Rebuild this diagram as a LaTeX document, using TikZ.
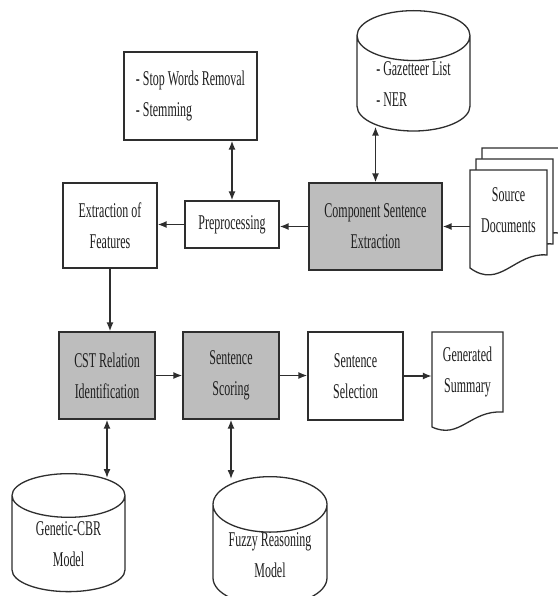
\documentclass[tikz,border=0pt]{standalone}
\usepackage{fontspec}
\setmainfont{Liberation Serif}[FakeStretch=0.57]
\usepackage{xcolor}
\definecolor{flow-line}{HTML}{2E2E2E}
\definecolor{flow-text}{HTML}{1E1E1E}
\definecolor{flow-shade}{HTML}{BDBDBD}
\usetikzlibrary{arrows.meta,shapes.geometric,calc}

\begin{document}
\begin{tikzpicture}[x=1pt, y=-1pt,
    font=\fontsize{21}{31}\selectfont, text=flow-text,
    plainbox/.style={draw=flow-line, line width=1.3pt, fill=white, inner sep=0pt, align=center},
    shadebox/.style={plainbox, fill=flow-shade},
    dbase/.style={cylinder, shape border rotate=90, aspect=0.67, draw=flow-line, line width=1.3pt, inner sep=0pt, align=center, anchor=north},
    page/.style={draw=flow-line, line width=1.3pt, fill=white},
    flowarrow/.style={draw=flow-line, line width=1.5pt, -{Latex[length=9pt,width=7pt]}},
    bothway/.style={flowarrow, {Latex[length=9pt,width=7pt]}-{Latex[length=9pt,width=7pt]}}]

    % Background
    \fill[white] (0,0) rectangle (557,596);
    \useasboundingbox (0,0) rectangle (557,596);

    % Pages
    \foreach \s in {2,1,0}
        \draw[page, shift={(6*\s,-11*\s)}] (470,170) -- (547,170) -- (547,255)
            .. controls (515,252) and (500,290) .. (470,268) -- cycle;
    \draw[page] (432,332) -- (503,332) -- (503,412)
        .. controls (470,410) and (460,440) .. (432,427) -- cycle;

    % Top row
    \node[plainbox, minimum width=133, minimum height=88, align=left] (stopw) at (190.5,96) {- Stop Words Removal\\- Stemming};
    \node[dbase, minimum width=113, minimum height=117, align=left] (gaz) at (413.5,10) {- Gazetteer List\\- NER};
    \node[plainbox, minimum width=94, minimum height=85] (feat) at (110,225.5) {Extraction of\\Features};
    \node[plainbox, minimum width=94, minimum height=47] (prep) at (232,224.5) {Preprocessing};
    \node[shadebox, minimum width=133, minimum height=87] (comp) at (375.5,226.5) {Component Sentence\\Extraction};
    \node[inner sep=0pt, minimum width=77, minimum height=85, align=center] (src) at (508.5,210) {Source\\Documents};

    % Bottom row
    \node[shadebox, minimum width=96, minimum height=87] (cst) at (107,375.5) {CST Relation\\Identification};
    \node[shadebox, minimum width=96, minimum height=87] (score) at (231,375.5) {Sentence\\Scoring};
    \node[plainbox, minimum width=95, minimum height=88] (select) at (355.5,376) {Sentence\\Selection};
    \node[inner sep=0pt, minimum width=71, minimum height=80, align=center] (summ) at (467.5,372) {Generated\\Summary};

    % Models
    \node[dbase, minimum width=113, minimum height=118] (gcbr) at (68.5,473) {Genetic-CBR\\Model};
    \node[dbase, minimum width=114, minimum height=113] (fuzzy) at (270,476) {Fuzzy Reasoning\\Model};

    % Connectors
    \draw[bothway] (prep.north |- stopw.south) -- (prep.north);
    \draw[bothway] ($(comp.north |- gaz.south)+(0,-5)$) -- (comp.north);
    \draw[flowarrow] (src.west |- comp.east) -- (comp.east);
    \draw[flowarrow] (comp.west) -- (comp.west -| prep.east);
    \draw[flowarrow] (prep.west) -- (prep.west -| feat.east);
    \draw[flowarrow] (feat.south) -- (feat.south |- cst.north);
    \draw[flowarrow] (cst.east) -- (score.west);
    \draw[flowarrow] (score.east) -- (score.east -| select.west);
    \draw[flowarrow] (select.east) -- (select.east -| summ.west);
    \draw[bothway] (cst.south) -- ($(cst.south |- gcbr.north)+(0,5)$);
    \draw[bothway] (score.south) -- ($(score.south |- fuzzy.north)+(0,3)$);

\end{tikzpicture}
\end{document}
